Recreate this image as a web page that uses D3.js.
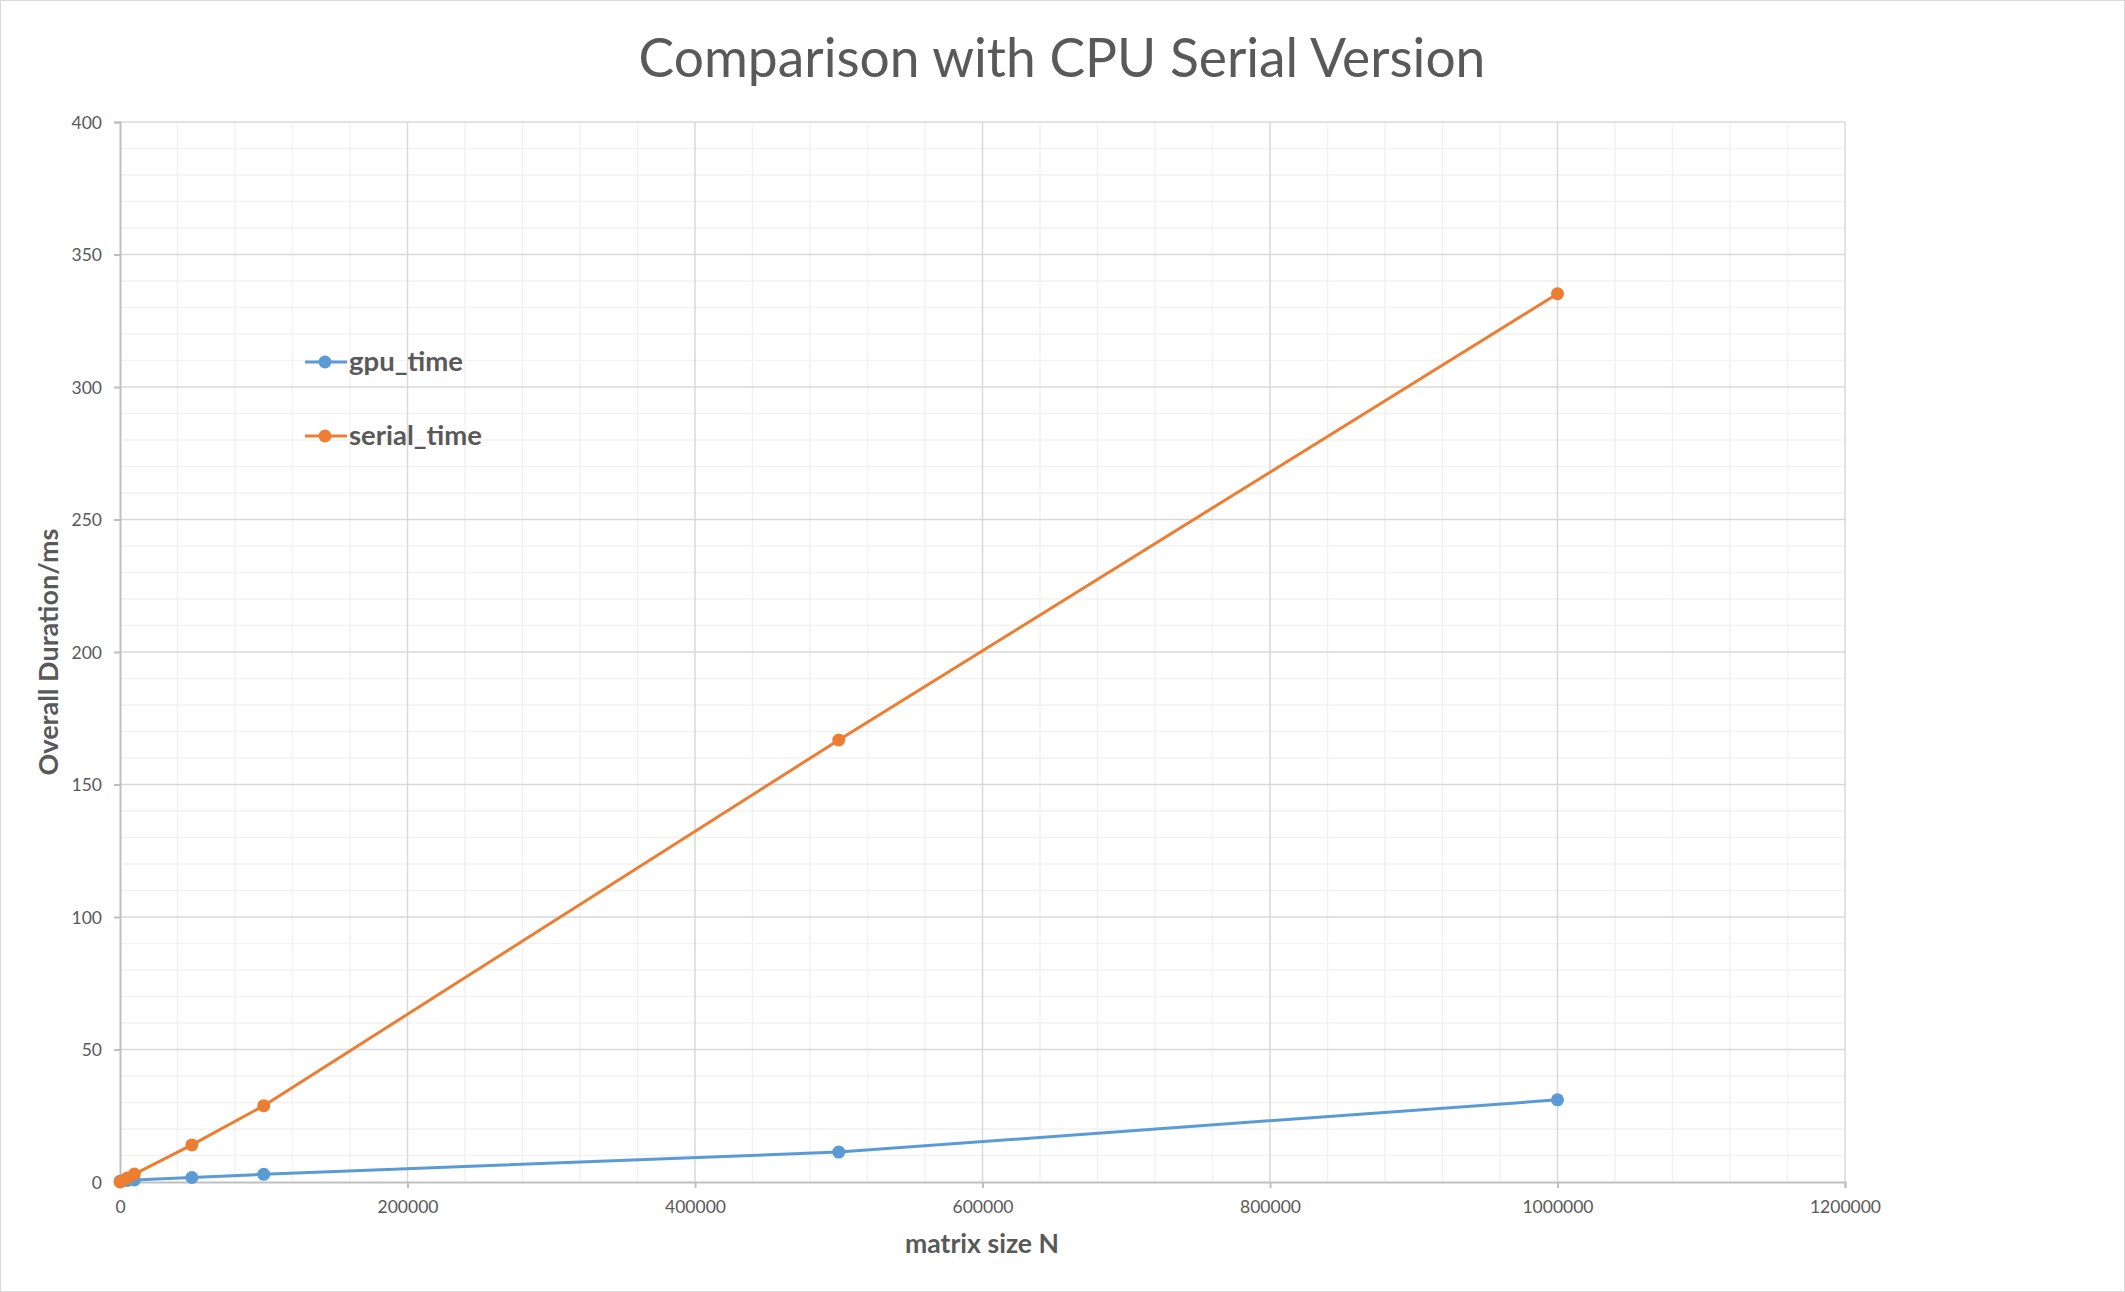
<!DOCTYPE html>
<html><head><meta charset="utf-8">
<script src="https://cdn.jsdelivr.net/npm/d3@7"></script>
<style>body{margin:0;background:#fff}svg{display:block}</style>
</head><body>
<svg id="c" width="2125" height="1292"></svg>
<script>
const matrixN = [100, 1000, 5000, 10000, 50000, 100000, 500000, 1000000];
const gpuTime = [0.3, 0.4, 0.6, 0.8, 1.7, 2.9, 11.3, 31.0];
const serialTime = [0.03, 0.3, 1.5, 3.0, 14.0, 28.8, 166.8, 335.2];
const xTicks = [0, 200000, 400000, 600000, 800000, 1000000, 1200000];
const yTicks = [0, 50, 100, 150, 200, 250, 300, 350, 400];
const seriesNames = ["gpu_time", "serial_time"];
const colors = ["#5b9bd5", "#ed7d31"];

const W = 2125, H = 1292;
const m = {l:120, r:2125-1845, t:122, b:1292-1182};
const svg = d3.select("#c");
const font = "Lato, 'Open Sans', sans-serif";
const txt = "#595959";

svg.append("rect").attr("x",0.5).attr("y",0.5).attr("width",W-1).attr("height",H-1)
  .attr("fill","#fff").attr("stroke","#d9d9d9");

const x = d3.scaleLinear().domain([0,1200000]).range([m.l, W-m.r]);
const y = d3.scaleLinear().domain([0,400]).range([H-m.b, m.t]);

const g = svg.append("g");
const xMinor = d3.range(0, 1200001, 40000).filter(v => v % 200000 !== 0);
const yMinor = d3.range(0, 401, 10).filter(v => v % 50 !== 0);
g.selectAll(".xm").data(xMinor).join("line")
  .attr("x1",d=>x(d)).attr("x2",d=>x(d)).attr("y1",y(0)).attr("y2",y(400))
  .attr("stroke","#f2f2f2").attr("stroke-width",1.5);
g.selectAll(".ym").data(yMinor).join("line")
  .attr("y1",d=>y(d)).attr("y2",d=>y(d)).attr("x1",x(0)).attr("x2",x(1200000))
  .attr("stroke","#f2f2f2").attr("stroke-width",1.5);
g.selectAll(".xM").data(xTicks.slice(1)).join("line")
  .attr("x1",d=>x(d)).attr("x2",d=>x(d)).attr("y1",y(0)).attr("y2",y(400))
  .attr("stroke","#d9d9d9").attr("stroke-width",1.5);
g.selectAll(".yM").data(yTicks.slice(1)).join("line")
  .attr("y1",d=>y(d)).attr("y2",d=>y(d)).attr("x1",x(0)).attr("x2",x(1200000))
  .attr("stroke","#d9d9d9").attr("stroke-width",1.5);

const xAxis = d3.axisBottom(x).tickValues(xTicks).tickSize(6).tickPadding(13).tickFormat(d3.format("d"));
const yAxis = d3.axisLeft(y).tickValues(yTicks).tickSize(6).tickPadding(12).tickFormat(d3.format("d"));
const gx = svg.append("g").attr("transform",`translate(0,${y(0)})`).call(xAxis);
const gy = svg.append("g").attr("transform",`translate(${x(0)},0)`).call(yAxis);
[gx,gy].forEach(a=>{
  a.select(".domain").attr("stroke","#bfbfbf").attr("stroke-width",2);
  a.selectAll(".tick line").attr("stroke","#bfbfbf").attr("stroke-width",2);
  a.selectAll(".tick text").attr("fill",txt).style("font-family",font).style("font-size","17.5px");
});
gy.selectAll(".tick text").attr("dy","0.35em");

const series = [gpuTime, serialTime];
const line = d3.line().x((d,i)=>x(matrixN[i])).y(d=>y(d));
series.forEach((s,k)=>{
  svg.append("path").datum(s).attr("d",line).attr("fill","none")
    .attr("stroke",colors[k]).attr("stroke-width",3).attr("stroke-linejoin","round");
  svg.selectAll(".p"+k).data(s).join("circle")
    .attr("cx",(d,i)=>x(matrixN[i])).attr("cy",d=>y(d)).attr("r",6.5).attr("fill",colors[k]);
});

function fit(sel, target){
  const w = sel.node().getComputedTextLength();
  const fs = parseFloat(sel.style("font-size"));
  sel.style("font-size", (fs*target/w)+"px");
}

const title = svg.append("text").attr("x",1062).attr("y",77).attr("text-anchor","middle")
  .attr("fill",txt).style("font-family",font).style("font-size","50px")
  .text("Comparison with CPU Serial Version");
fit(title, 847);

const xt = svg.append("text").attr("x",982).attr("y",1253).attr("text-anchor","middle")
  .attr("fill",txt).style("font-family",font).style("font-weight","bold").style("font-size","24px")
  .text("matrix size N");
fit(xt, 154);

const yt = svg.append("text").attr("transform","translate(58,652) rotate(-90)").attr("text-anchor","middle")
  .attr("fill",txt).style("font-family",font).style("font-weight","bold").style("font-size","24px")
  .text("Overall Duration/ms");
fit(yt, 247);

const legY = [362, 436];
const legW = [114, 133];
seriesNames.forEach((n,k)=>{
  svg.append("line").attr("x1",305).attr("x2",347).attr("y1",legY[k]).attr("y2",legY[k])
    .attr("stroke",colors[k]).attr("stroke-width",3);
  svg.append("circle").attr("cx",325).attr("cy",legY[k]).attr("r",6.5).attr("fill",colors[k]);
  const t = svg.append("text").attr("x",349).attr("y",legY[k]).attr("dy","0.32em")
    .attr("fill",txt).style("font-family",font).style("font-weight","bold").style("font-size","24px")
    .text(n);
  fit(t, legW[k]);
});
</script>
</body></html>
